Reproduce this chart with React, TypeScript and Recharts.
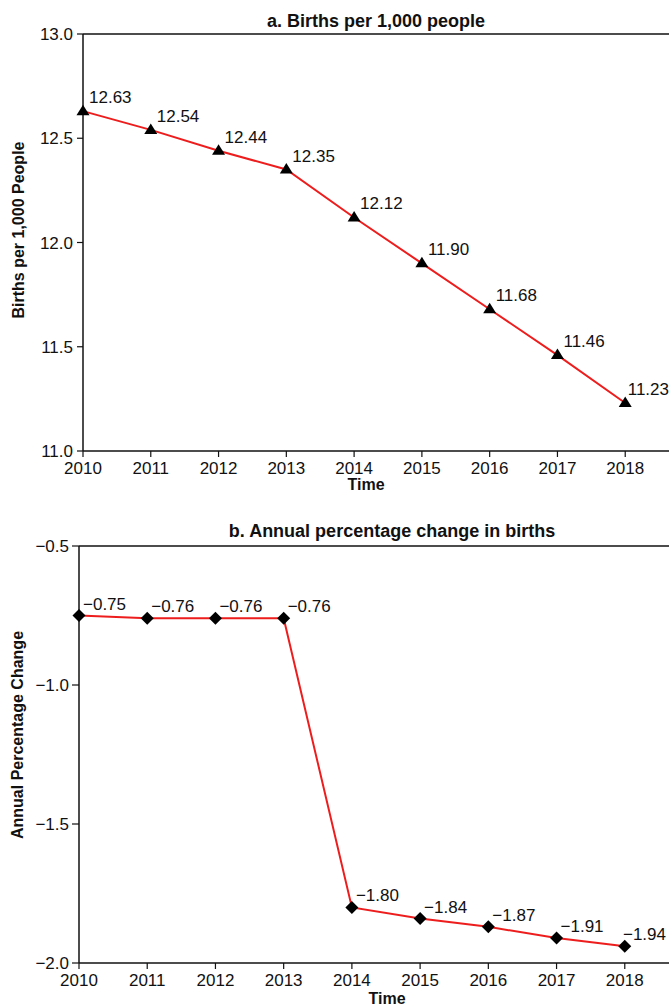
import React from 'react';
import { LineChart, Line, XAxis, YAxis, ReferenceLine, LabelList } from 'recharts';

const years = [2010, 2011, 2012, 2013, 2014, 2015, 2016, 2017, 2018];
const birthRate = [12.63, 12.54, 12.44, 12.35, 12.12, 11.9, 11.68, 11.46, 11.23];
const pctChange = [-0.75, -0.76, -0.76, -0.76, -1.8, -1.84, -1.87, -1.91, -1.94];
const rateTicks = [11.0, 11.5, 12.0, 12.5, 13.0];
const changeTicks = [-2.0, -1.5, -1.0, -0.5];

const rateData = years.map((year, i) => ({ year, value: birthRate[i] }));
const changeData = years.map((year, i) => ({ year, value: pctChange[i] }));

const FONT = '"Liberation Sans", Arial, Helvetica, sans-serif';
const RED = '#ee1d1d';
const INK = '#111';
const PAGE_W = 669;

const minus = (s: string) => s.replace('-', '\u2212');

const axisProps = {
  stroke: INK,
  strokeWidth: 1.5,
  tick: { fill: INK, fontSize: 17, fontFamily: FONT },
  tickLine: { stroke: INK, strokeWidth: 1.2 },
};

const Triangle = (props: any) => {
  const { cx, cy, index } = props;
  if (cx == null || cy == null) return null;
  return (
    <path
      key={`tri-${index}`}
      d={`M${cx},${cy - 6.5} L${cx + 6.5},${cy + 4} L${cx - 6.5},${cy + 4} Z`}
      fill="#000"
    />
  );
};

const Diamond = (props: any) => {
  const { cx, cy, index } = props;
  if (cx == null || cy == null) return null;
  return (
    <path
      key={`dia-${index}`}
      d={`M${cx},${cy - 6.5} L${cx + 6.5},${cy} L${cx},${cy + 6.5} L${cx - 6.5},${cy} Z`}
      fill="#000"
    />
  );
};

// value label to the upper right of each marker; pulled back inside the page at the right edge
const valueLabel = (dx: number, dy: number, rightEdge: number) => (props: any) => {
  const { x, y, value } = props;
  const overflow = x + dx + 44 > PAGE_W;
  return (
    <text
      x={overflow ? rightEdge : x + dx}
      y={y + dy}
      fill={INK}
      fontSize={17}
      fontFamily={FONT}
      textAnchor={overflow ? 'end' : 'start'}
    >
      {minus(Number(value).toFixed(2))}
    </text>
  );
};

export default function App() {
  return (
    <div style={{ position: 'absolute', left: 0, top: 0, width: PAGE_W, height: 1007, overflow: 'hidden', background: '#fff' }}>
      <LineChart width={700} height={505} data={rateData} margin={{ top: 34, right: 7, bottom: 0, left: 0 }}>
        <XAxis
          dataKey="year"
          type="number"
          domain={[2010, 2019]}
          ticks={years}
          height={54}
          tickSize={6}
          tickMargin={5}
          {...axisProps}
        />
        <YAxis
          type="number"
          domain={[11, 13]}
          ticks={rateTicks}
          width={83}
          tickSize={6}
          tickMargin={4}
          tickFormatter={(v: number) => v.toFixed(1)}
          {...axisProps}
        />
        <ReferenceLine y={13} stroke={INK} strokeWidth={1.5} />
        <Line
          dataKey="value"
          stroke={RED}
          strokeWidth={2}
          dot={Triangle}
          activeDot={false}
          isAnimationActive={false}
        >
          <LabelList dataKey="value" content={valueLabel(6, -8, 669)} />
        </Line>
      </LineChart>

      <LineChart width={700} height={502} data={changeData} margin={{ top: 41, right: 7, bottom: 0, left: 0 }}>
        <XAxis
          dataKey="year"
          type="number"
          domain={[2010, 2019]}
          ticks={years}
          height={44}
          tickSize={6}
          tickMargin={5}
          {...axisProps}
        />
        <YAxis
          type="number"
          domain={[-2, -0.5]}
          ticks={changeTicks}
          width={79}
          tickSize={7}
          tickMargin={3}
          tickFormatter={(v: number) => minus(v.toFixed(1))}
          {...axisProps}
        />
        <ReferenceLine y={-0.5} stroke={INK} strokeWidth={1.5} />
        <Line
          dataKey="value"
          stroke={RED}
          strokeWidth={2}
          dot={Diamond}
          activeDot={false}
          isAnimationActive={false}
        >
          <LabelList dataKey="value" content={valueLabel(4, -6, 666)} />
        </Line>
      </LineChart>

      {/* titles and axis captions */}
      <svg
        width={PAGE_W}
        height={1007}
        style={{ position: 'absolute', left: 0, top: 0, pointerEvents: 'none' }}
        fontFamily={FONT}
        fill={INK}
        fontWeight="bold"
      >
        <text x={376} y={27} fontSize={18} textAnchor="middle">a. Births per 1,000 people</text>
        <text x={366} y={490} fontSize={16} textAnchor="middle">Time</text>
        <text transform="translate(18,230) rotate(-90)" fontSize={16} textAnchor="middle" dominantBaseline="central">
          Births per 1,000 People
        </text>

        <text x={392} y={537} fontSize={18} textAnchor="middle">b. Annual percentage change in births</text>
        <text x={387} y={1004} fontSize={16} textAnchor="middle">Time</text>
        <text transform="translate(17,735) rotate(-90)" fontSize={16} textAnchor="middle" dominantBaseline="central">
          Annual Percentage Change
        </text>
      </svg>
    </div>
  );
}
